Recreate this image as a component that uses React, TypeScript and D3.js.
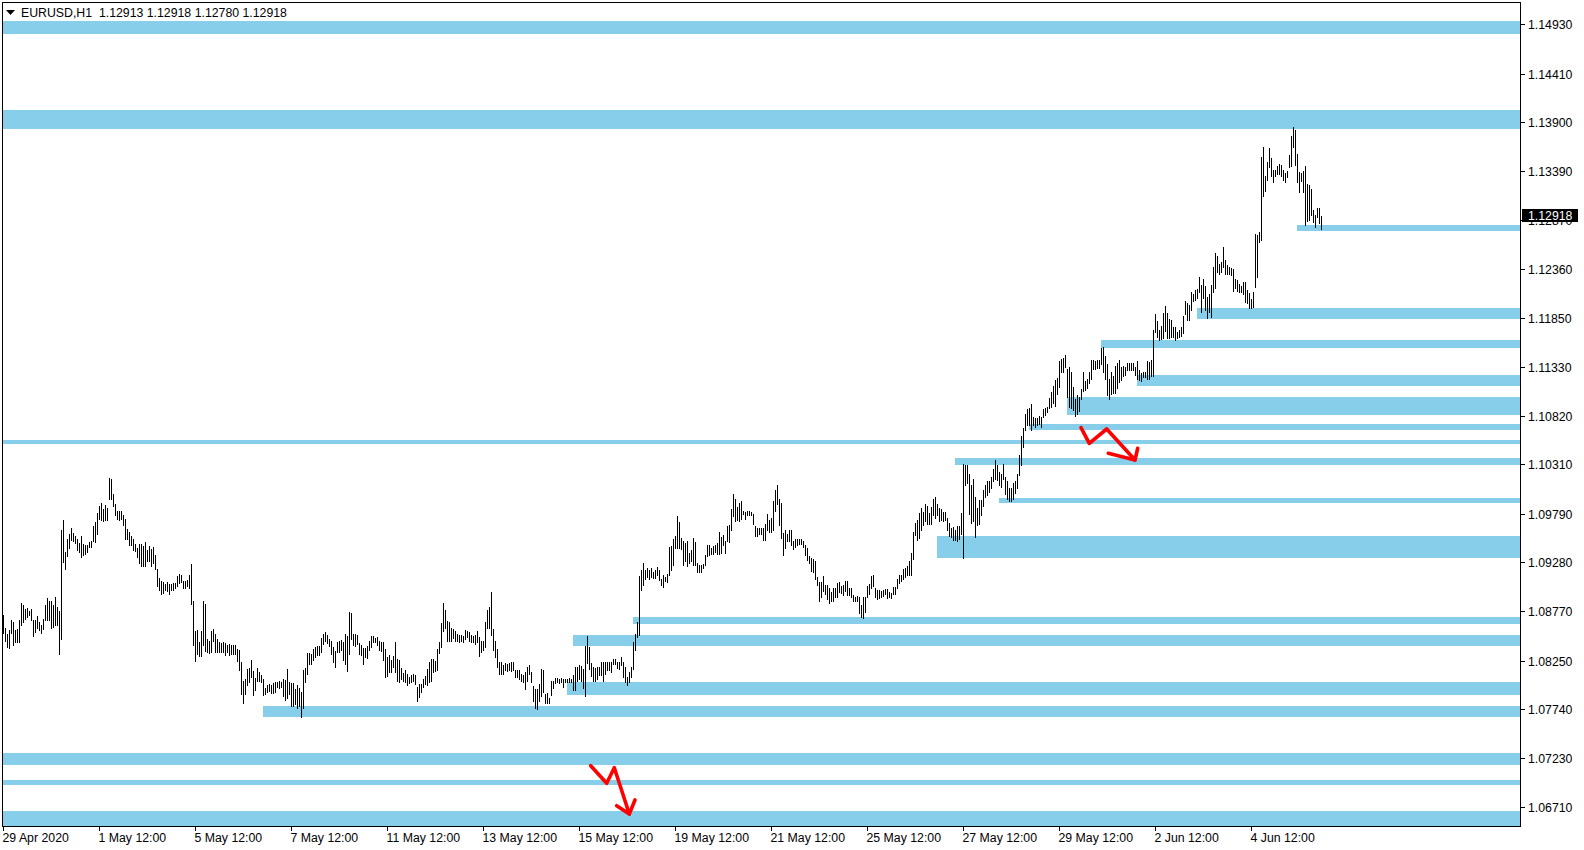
import React from 'react';
import * as d3 from 'd3';

// Hourly EURUSD bars, highs and lows in pips above 1.0000 (price = 1 + pips/10000)
const highPips = [
873,859,853,857,868,866,857,858,868,885,
883,879,880,877,879,868,868,872,865,862,
869,883,891,888,888,883,892,881,877,962,
972,939,953,958,964,959,956,953,948,956,
947,946,946,949,950,966,970,980,987,990,
984,988,985,1017,1016,1000,989,982,982,982,
978,974,963,960,956,953,947,943,947,947,
945,949,941,945,942,944,936,921,912,909,
907,905,907,905,905,906,906,914,916,915,
909,908,910,915,926,887,856,857,845,856,
887,884,848,846,856,858,853,848,844,843,
844,843,841,842,841,841,841,837,836,824,
804,806,816,817,826,814,807,817,813,810,
806,796,799,800,799,801,802,803,804,802,
806,805,816,803,801,801,795,799,796,792,
815,817,833,833,832,837,839,840,840,849,
853,855,852,848,846,839,835,844,846,847,
844,853,851,876,875,853,853,852,843,841,
838,838,840,846,851,851,849,850,846,845,
844,837,829,831,826,830,844,827,826,817,
812,815,811,808,810,811,810,797,800,800,
806,809,816,824,827,827,825,837,844,864,
885,878,867,866,859,858,856,853,852,852,
851,857,856,855,852,851,852,856,850,846,
846,865,878,881,897,858,846,837,823,823,
820,822,821,822,823,823,815,815,815,811,
810,813,818,820,813,798,795,795,800,816,
815,790,791,786,804,804,807,807,806,807,
806,806,806,807,806,810,818,818,820,819,
816,840,851,839,822,818,817,818,818,823,
824,824,824,823,823,827,827,824,824,829,
824,818,808,813,818,844,853,866,914,920,
927,920,922,920,922,918,920,923,920,911,
915,913,916,944,945,953,956,977,970,954,
951,948,950,938,941,954,949,927,925,925,
926,936,946,946,943,945,946,948,960,955,
957,951,966,967,984,1000,995,986,990,992,
982,981,982,982,981,979,966,964,964,964,
964,968,979,972,975,992,1004,1009,995,990,
959,962,958,962,962,951,953,953,953,953,
951,946,943,935,933,932,929,913,907,907,
914,904,904,901,897,901,901,906,907,903,
904,908,908,901,901,894,892,893,892,883,
892,892,903,905,914,915,901,899,899,898,
899,900,900,897,896,902,902,911,915,915,
921,922,924,929,938,960,969,973,980,985,
981,989,987,980,986,995,997,989,985,984,
981,981,975,969,964,965,962,966,966,980,
1031,1030,1030,1021,1009,1016,997,985,993,993,
1004,1009,1013,1013,1018,1026,1035,1030,1023,1021,
1031,1018,1013,1006,1006,1011,1013,1021,1041,1061,
1069,1084,1089,1090,1094,1081,1080,1080,1082,1081,
1089,1090,1091,1101,1107,1113,1119,1122,1139,1141,
1142,1146,1131,1133,1128,1112,1100,1104,1102,1110,
1128,1118,1120,1128,1140,1140,1139,1140,1140,1153,
1154,1145,1136,1120,1128,1124,1134,1137,1140,1133,
1134,1133,1137,1137,1137,1137,1133,1139,1130,1127,
1128,1128,1139,1138,1140,1172,1189,1181,1172,1176,
1190,1197,1190,1183,1182,1175,1175,1170,1172,1175,
1187,1202,1200,1198,1212,1210,1214,1215,1228,1219,
1225,1218,1207,1210,1219,1238,1253,1250,1241,1243,
1259,1245,1240,1238,1237,1236,1225,1224,1220,1218,
1222,1222,1214,1211,1204,1212,1273,1272,1275,1353,
1364,1334,1348,1363,1352,1340,1340,1344,1346,1345,
1340,1337,1339,1356,1376,1385,1382,1357,1338,1337,
1339,1344,1325,1324,1320,1298,1293,1300,1300,1292
];

const lowPips = [
854,846,839,838,854,841,845,845,845,862,
866,869,871,873,868,851,855,859,857,854,
858,868,868,868,859,860,862,862,832,848,
928,921,935,943,952,951,948,941,939,934,
936,937,939,944,944,950,949,958,974,972,
971,972,972,995,995,987,978,974,973,974,
967,953,953,946,946,941,940,934,927,924,
924,924,929,930,924,927,921,903,899,895,
896,899,898,895,899,899,901,903,906,907,
901,901,903,901,884,841,825,832,830,830,
841,835,834,833,834,846,834,834,834,834,
834,831,834,831,832,832,832,825,815,790,
781,790,799,803,808,789,794,804,804,803,
789,790,792,793,791,791,792,797,796,797,
788,784,786,790,777,777,779,775,777,766,
775,802,811,821,821,826,829,831,831,834,
842,846,843,840,832,824,818,834,834,836,
826,821,814,832,848,841,840,842,832,831,
821,829,828,836,839,844,844,841,836,835,
826,808,809,813,813,818,813,804,802,806,
804,802,799,801,802,804,800,783,787,792,
797,800,799,803,804,813,814,815,833,839,
856,859,846,846,846,849,846,846,845,846,
844,848,850,846,845,845,842,845,830,834,
836,839,859,859,852,836,829,818,811,811,
811,815,814,815,814,815,808,808,806,804,
803,795,804,811,802,783,775,774,783,788,
792,780,780,780,789,796,801,802,801,802,
797,803,803,803,803,794,794,804,806,804,
796,788,822,816,809,804,804,806,810,810,
804,811,815,815,813,821,821,817,816,820,
808,802,799,802,808,816,836,850,852,899,
904,911,913,911,913,912,912,915,910,904,
902,908,907,915,920,925,943,943,943,942,
925,930,924,927,929,925,925,918,918,918,
922,925,935,936,937,937,939,937,937,938,
946,938,950,949,962,977,971,972,971,974,
979,974,978,978,978,968,956,956,958,958,
952,952,962,960,960,962,982,989,967,954,
936,943,950,951,946,942,944,946,947,947,
944,936,931,927,919,918,911,904,888,892,
898,895,890,885,887,888,892,892,897,896,
894,898,894,894,892,887,888,887,875,871,
870,876,892,895,901,903,892,890,891,892,
893,895,891,892,891,895,895,901,906,908,
911,913,915,915,915,932,957,952,954,962,
967,971,968,968,968,978,975,978,971,972,
971,973,962,956,955,952,952,951,953,958,
933,1009,1011,979,969,971,955,967,968,978,
987,997,999,1002,1006,1013,1016,1014,1009,1007,
1016,1000,995,992,992,995,1001,1006,1020,1030,
1049,1067,1072,1072,1067,1072,1070,1072,1073,1070,
1081,1083,1086,1090,1091,1095,1092,1105,1112,1128,
1128,1133,1102,1091,1090,1088,1082,1084,1087,1100,
1108,1109,1111,1116,1121,1131,1131,1132,1132,1136,
1128,1120,1104,1100,1105,1106,1106,1111,1117,1119,
1124,1125,1130,1130,1130,1130,1125,1121,1119,1118,
1123,1123,1120,1120,1124,1124,1170,1165,1161,1162,
1164,1171,1164,1164,1165,1165,1161,1163,1165,1166,
1169,1189,1182,1182,1193,1202,1203,1205,1212,1191,
1205,1193,1184,1191,1186,1212,1216,1233,1231,1233,
1238,1231,1231,1231,1230,1213,1216,1213,1212,1212,
1210,1201,1200,1195,1195,1196,1217,1227,1264,1266,
1313,1318,1329,1343,1333,1327,1333,1336,1336,1333,
1329,1327,1332,1343,1344,1364,1345,1327,1317,1328,
1317,1282,1286,1287,1293,1285,1280,1291,1284,1278
];

const timeLabels = [
  '29 Apr 2020', '1 May 12:00', '5 May 12:00', '7 May 12:00', '11 May 12:00',
  '13 May 12:00', '15 May 12:00', '19 May 12:00', '21 May 12:00', '25 May 12:00',
  '27 May 12:00', '29 May 12:00', '2 Jun 12:00', '4 Jun 12:00'
];
const timeLabelBars = [0, 48, 96, 144, 192, 240, 288, 336, 384, 432, 480, 528, 576, 624];

const priceTicks = [
  1.1493, 1.1441, 1.139, 1.1339, 1.1287, 1.1236, 1.1185, 1.1133, 1.1082,
  1.1031, 1.0979, 1.0928, 1.0877, 1.0825, 1.0774, 1.0723, 1.0671
];

// Support / resistance zones: start bar (null = whole chart), top and bottom price
const zoneStartBar = [null, null, 647, 597, 549, 567, 532, 513, null, 476, 498, 467, 315, 285, 282, 130, null, null, null];
const zoneTop = [1.14965, 1.14028, 1.12821, 1.11946, 1.11614, 1.11247, 1.11016, 1.10732, 1.10564, 1.10376, 1.09956, 1.09557, 1.08707, 1.08518, 1.08025, 1.07773, 1.0728, 1.06996, 1.06671];
const zoneBottom = [1.14822, 1.13831, 1.12761, 1.11834, 1.11533, 1.11134, 1.10827, 1.10669, 1.10522, 1.10302, 1.09903, 1.09326, 1.08633, 1.08403, 1.07888, 1.07658, 1.07154, 1.06944, 1.06514];

// Hand-drawn red arrows (bar index, pips)
const arrow1Bars = [293.6, 301.6, 305.4, 312.9];
const arrow1Pips = [714.7, 696.2, 712.6, 664.0];
const arrow1HeadBars = [306.6, 312.9, 315.75];
const arrow1HeadPips = [672.7, 664.0, 678.7];
const arrow2Bars = [538.75, 542.9, 551.6, 565.75];
const arrow2Pips = [1069.4, 1053.0, 1068.0, 1035.5];
const arrow2HeadBars = [552.4, 565.75, 567.1];
const arrow2HeadPips = [1042.5, 1035.5, 1047.8];

const symbolTitle = 'EURUSD,H1  1.12913 1.12918 1.12780 1.12918';
const lastPrice = 1.12918;

const FONT = '"Liberation Sans", Arial, sans-serif';
const ZONE = '#87CEEB';

export default function App() {
  const W = 1584, H = 850;
  const L = 2, R = 1520, T = 2, B = 826;
  const x = d3.scaleLinear().domain([0, 1]).range([3.5, 5.5]);
  const y = d3.scaleLinear().domain([1.06514, 1.15161]).range([B, T]);
  const p = (v: number) => 1 + v / 10000;
  const line = d3.line<[number, number]>().x(d => x(d[0])).y(d => y(p(d[1])));

  const bars = highPips.map((h, i) => {
    const lo = lowPips[i];
    const yt = Math.round(y(p(Math.max(h, lo))));
    const yb = Math.round(y(p(Math.min(h, lo))));
    return { x: Math.round(x(i) - 0.5), y: yt, h: Math.max(1, yb - yt + 1) };
  });

  const ar1 = arrow1Bars.map((b, i) => [b, arrow1Pips[i]] as [number, number]);
  const ar1h = arrow1HeadBars.map((b, i) => [b, arrow1HeadPips[i]] as [number, number]);
  const ar2 = arrow2Bars.map((b, i) => [b, arrow2Pips[i]] as [number, number]);
  const ar2h = arrow2HeadBars.map((b, i) => [b, arrow2HeadPips[i]] as [number, number]);

  const ly = y(lastPrice);

  return (
    <svg width={W} height={H} style={{ position: 'absolute', left: 0, top: 0, background: '#fff' }} fontFamily={FONT}>
      <rect x={0} y={0} width={W} height={H} fill="#fff" />
      {/* zones */}
      <g shapeRendering="crispEdges">
        {zoneTop.map((zt, i) => {
          const s = zoneStartBar[i];
          const x0 = s === null ? L : x(s) - 0.5;
          const y0 = y(zt);
          const y1 = y(zoneBottom[i]);
          return <rect key={i} x={x0} y={y0} width={R - x0} height={y1 - y0} fill={ZONE} />;
        })}
      </g>
      {/* bars */}
      <g shapeRendering="crispEdges" fill="#000">
        {bars.map((b, i) => <rect key={i} x={b.x} y={b.y} width={1} height={b.h} />)}
      </g>
      {/* arrows */}
      <g fill="none" stroke="#ff0000" strokeWidth={3.6} strokeLinejoin="round" strokeLinecap="round">
        <path d={line(ar1) || ''} />
        <path d={line(ar1h) || ''} />
        <path d={line(ar2) || ''} />
        <path d={line(ar2h) || ''} />
      </g>
      {/* frame */}
      <g stroke="#000" strokeWidth={1} shapeRendering="crispEdges">
        <line x1={L + 0.5} x2={L + 0.5} y1={T} y2={B + 1} />
        <line x1={L} x2={R + 1} y1={T + 0.5} y2={T + 0.5} />
        <line x1={R + 0.5} x2={R + 0.5} y1={T} y2={B + 1} />
        <line x1={L} x2={R + 1} y1={B + 0.5} y2={B + 0.5} />
      </g>
      {/* price axis */}
      <g>
        {priceTicks.map((t, i) => {
          const ty = Math.round(y(t)) + 0.5;
          return (
            <g key={i}>
              <line x1={R + 1} x2={R + 5} y1={ty} y2={ty} stroke="#000" shapeRendering="crispEdges" />
              <text x={1528} y={ty + 4.3} fontSize={12.3} fill="#000">{t.toFixed(5)}</text>
            </g>
          );
        })}
        <rect x={1522} y={ly - 6.7} width={56} height={13} fill="#000" shapeRendering="crispEdges" />
        <text x={1528} y={ly + 4.5} fontSize={12.3} fill="#fff">{lastPrice.toFixed(5)}</text>
      </g>
      {/* time axis */}
      <g>
        {timeLabelBars.map((b, i) => {
          const tx = Math.round(x(b) - 0.5) + 0.5;
          return (
            <g key={i}>
              <line x1={tx} x2={tx} y1={B + 1} y2={B + 5} stroke="#000" shapeRendering="crispEdges" />
              <text x={tx - 1} y={841.5} fontSize={12.3} fill="#000">{timeLabels[i]}</text>
            </g>
          );
        })}
      </g>
      {/* title */}
      <path d="M6,10 L15,10 L10.5,15 Z" fill="#000" />
      <text x={21} y={17} fontSize={12.3} fill="#000" style={{ whiteSpace: 'pre' }}>{symbolTitle}</text>
    </svg>
  );
}
